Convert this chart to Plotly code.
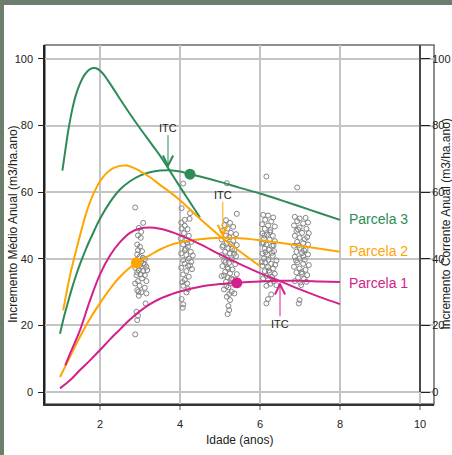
import plotly.graph_objects as go

# ---------------- data ----------------
# Parcela 3 (green)
p3_ica_age = [1.06, 1.12, 1.2, 1.3, 1.4, 1.5, 1.6, 1.7, 1.8, 1.9, 2.0, 2.1, 2.2, 2.35, 2.5, 2.75, 3.0, 3.25, 3.5, 3.7, 4.0, 4.25, 4.5]
p3_ica_val = [66.5, 71.5, 78.0, 84.5, 89.3, 92.6, 95.0, 96.5, 97.2, 97.2, 96.5, 95.2, 93.5, 90.8, 88.0, 83.5, 79.2, 75.1, 71.0, 67.3, 61.6, 57.0, 52.4]
p3_ima_age = [1.0, 1.1, 1.2, 1.3, 1.4, 1.5, 1.65, 1.8, 2.0, 2.25, 2.5, 2.75, 3.0, 3.25, 3.5, 3.75, 4.0, 4.25, 4.5, 5.0, 5.5, 6.0, 6.5, 7.0, 7.5, 8.0]
p3_ima_val = [17.5, 22.6, 27.0, 31.2, 35.0, 38.4, 43.0, 47.0, 52.0, 57.0, 60.8, 63.3, 65.0, 66.0, 66.5, 66.6, 66.2, 65.4, 64.7, 63.1, 61.3, 59.6, 57.7, 55.7, 53.7, 51.7]

# Parcela 2 (orange)
p2_ica_age = [1.08, 1.15, 1.25, 1.35, 1.5, 1.65, 1.8, 2.0, 2.17, 2.33, 2.5, 2.67, 2.83, 3.0, 3.25, 3.5, 3.75, 4.0, 4.5, 5.0, 5.5, 6.0]
p2_ica_val = [24.5, 29.0, 35.0, 40.0, 47.0, 53.5, 58.5, 63.3, 65.8, 67.2, 67.9, 68.0, 67.4, 66.3, 64.5, 62.2, 60.0, 57.6, 52.0, 46.8, 42.2, 37.8]
p2_ima_age = [1.0, 1.17, 1.33, 1.5, 1.75, 2.0, 2.25, 2.5, 2.75, 3.0, 3.25, 3.5, 3.75, 4.0, 4.5, 5.0, 5.5, 6.0, 6.5, 7.0, 7.5, 8.0]
p2_ima_val = [4.5, 8.6, 12.5, 16.6, 22.0, 26.7, 31.0, 34.6, 37.4, 39.4, 41.1, 42.8, 44.1, 45.0, 45.9, 46.3, 46.2, 45.6, 44.8, 43.9, 43.0, 42.1]

# Parcela 1 (magenta)
p1_ica_age = [1.13, 1.25, 1.5, 1.75, 2.0, 2.25, 2.5, 2.75, 3.0, 3.25, 3.5, 3.75, 4.0, 4.5, 5.0, 5.5, 6.0, 6.5, 7.0, 7.5, 8.0]
p1_ica_val = [8.0, 11.5, 18.6, 27.5, 35.3, 41.0, 45.0, 47.8, 49.1, 49.4, 49.0, 48.2, 47.1, 44.4, 41.3, 38.4, 35.7, 33.3, 30.8, 28.5, 26.4]
p1_ima_age = [1.0, 1.25, 1.5, 1.75, 2.0, 2.25, 2.5, 2.75, 3.0, 3.25, 3.5, 3.75, 4.0, 4.5, 5.0, 5.42, 6.0, 6.5, 7.0, 7.5, 8.0]
p1_ima_val = [1.1, 3.5, 6.6, 9.5, 12.6, 15.8, 18.8, 21.8, 24.3, 26.4, 28.0, 29.2, 30.2, 31.6, 32.4, 32.8, 33.2, 33.4, 33.4, 33.2, 33.0]

# observed points (IMA of measured plots)
obs_age_c1 = [2.88, 3.08, 2.97, 3.03, 2.95, 3.02, 2.93, 3.00, 2.95, 3.05, 2.93, 2.99, 3.12, 3.03, 3.16, 2.88, 2.97, 3.08,
              3.02, 2.91, 3.12, 2.95, 3.16, 2.88, 2.99, 3.12, 2.93, 3.03, 3.16, 2.97, 3.14, 2.91, 2.95, 2.93, 2.88,
              2.91, 3.08, 2.99, 3.18, 2.93, 3.05, 2.96, 3.07, 3.12, 3.02]
obs_val_c1 = [55.4, 50.8, 49.3, 48.1, 47.0, 46.3, 44.3, 43.6, 42.6, 42.3, 41.3, 40.6, 39.9, 39.1, 37.6, 37.3, 36.6, 36.3,
              35.3, 35.1, 35.1, 33.3, 33.3, 32.6, 31.9, 31.3, 30.6, 29.9, 29.6, 28.9, 26.6, 24.1, 22.9, 21.6, 17.3,
              39.6, 38.6, 38.1, 36.6, 35.9, 34.1, 30.1, 40.3, 38.3, 37.6]
obs_age_c2 = [4.08, 4.04, 4.25, 4.12, 4.24, 4.03, 4.12, 4.04, 4.19, 4.10, 4.22, 4.02, 4.16, 4.28, 4.08, 4.20, 4.12, 4.27,
              4.03, 4.16, 4.32, 4.22, 4.08, 4.28, 4.12, 4.20, 4.03, 4.30, 4.16, 4.08, 4.22, 4.12, 4.18, 4.08, 4.20,
              4.16, 4.04, 4.08, 4.07, 4.14, 4.25, 4.06, 4.18]
obs_val_c2 = [62.6, 55.2, 53.7, 51.7, 52.0, 50.9, 49.9, 49.1, 48.9, 47.7, 46.9, 46.1, 45.6, 45.1, 44.3, 43.6, 42.6, 42.1,
              41.6, 41.1, 41.0, 40.1, 39.6, 39.1, 38.6, 37.9, 37.3, 36.9, 36.3, 35.3, 34.6, 33.6, 32.6, 31.9, 30.9,
              29.9, 27.9, 26.3, 25.3, 43.0, 38.0, 33.0, 44.8]
obs_age_c3 = [5.17, 5.42, 5.15, 5.25, 5.11, 5.33, 5.19, 5.06, 5.27, 5.40, 5.15, 5.23, 5.04, 5.33, 5.17, 5.27, 5.42, 5.06,
              5.21, 5.36, 5.13, 5.25, 5.04, 5.40, 5.17, 5.29, 5.10, 5.23, 5.38, 5.06, 5.19, 5.31, 5.13, 5.25, 5.42,
              5.04, 5.19, 5.33, 5.15, 5.27, 5.40, 5.21, 5.10, 5.29, 5.23, 5.36, 5.17, 5.25, 5.21, 5.23, 5.19,
              5.08, 5.30, 5.14, 5.35, 5.20, 5.10, 5.28, 5.16]
obs_val_c3 = [62.7, 53.5, 51.6, 50.8, 50.1, 49.6, 49.1, 48.4, 47.8, 47.4, 47.0, 46.5, 45.8, 45.4, 44.8, 44.4, 44.1, 43.6,
              43.1, 42.6, 42.1, 41.6, 41.1, 40.8, 40.4, 39.8, 39.4, 38.8, 38.4, 37.8, 37.4, 36.8, 36.1, 35.6, 35.4,
              34.8, 34.4, 33.8, 33.1, 32.6, 32.1, 31.4, 30.8, 30.1, 29.4, 29.6, 28.6, 27.6, 25.8, 24.6, 23.4,
              44.0, 43.0, 39.0, 41.5, 37.0, 35.0, 34.0, 31.8]
obs_age_c4 = [6.16, 6.08, 6.20, 6.33, 6.13, 6.28, 6.05, 6.20, 6.37, 6.12, 6.26, 6.06, 6.18, 6.32, 6.10, 6.24, 6.37, 6.05,
              6.16, 6.30, 6.12, 6.22, 6.35, 6.06, 6.18, 6.32, 6.10, 6.21, 6.41, 6.13, 6.28, 6.06, 6.20, 6.33, 6.12,
              6.24, 6.37, 6.16, 6.30, 6.08, 6.20, 6.33, 6.26, 6.41, 6.16, 6.28, 6.20, 6.16,
              6.09, 6.25, 6.14, 6.34, 6.04, 6.22, 6.30, 6.11, 6.38]
obs_val_c4 = [64.7, 53.2, 53.0, 52.4, 51.7, 51.2, 50.4, 50.0, 49.7, 49.0, 48.6, 47.6, 47.3, 46.9, 46.1, 45.7, 45.3, 44.6,
              44.3, 43.9, 43.1, 42.7, 42.3, 41.6, 41.3, 40.9, 40.1, 39.7, 39.5, 38.9, 38.5, 37.9, 37.5, 37.1, 36.3,
              35.9, 35.5, 34.9, 34.5, 34.1, 33.6, 33.3, 32.5, 32.1, 31.9, 29.3, 27.9, 26.6,
              44.8, 48.0, 42.0, 44.0, 39.0, 36.5, 41.8, 47.0, 38.2]
obs_age_c5 = [6.93, 6.87, 6.99, 7.14, 6.93, 7.08, 7.20, 6.85, 6.99, 7.16, 6.91, 7.05, 7.22, 6.87, 6.99, 7.12, 6.93, 7.08,
              7.20, 6.85, 6.99, 7.14, 6.91, 7.05, 7.20, 6.87, 6.99, 7.12, 6.93, 7.08, 7.22, 6.85, 6.99, 7.14, 6.91,
              7.05, 7.18, 6.95, 7.10, 6.87, 7.01, 7.16, 7.03, 6.99, 6.97,
              6.96, 7.10, 6.90, 7.04, 7.18, 6.95, 7.08]
obs_val_c5 = [61.4, 52.6, 52.1, 52.3, 51.3, 50.6, 50.9, 50.0, 49.4, 49.0, 48.4, 47.8, 47.7, 46.9, 46.3, 45.9, 45.1, 44.7,
              44.3, 43.9, 43.3, 42.9, 42.1, 41.7, 41.3, 40.6, 40.1, 39.7, 38.9, 38.5, 38.1, 37.6, 37.1, 36.7, 35.9,
              35.5, 35.1, 34.3, 33.9, 33.3, 32.9, 33.1, 32.1, 27.6, 26.6,
              44.0, 42.5, 39.5, 36.0, 46.5, 48.8, 40.8]

# points marked on the IMA curves
dot_age = [4.25, 2.91, 5.42]
dot_val = [65.4, 38.8, 32.8]

# ITC arrows: (x head, y head, y tail, y text)
itc_x = [3.70, 5.07, 6.50]
itc_head = [67.3, 46.5, 33.0]
itc_tail = [77.6, 57.6, 22.3]
itc_text_y = [79.2, 59.1, 20.5]

tick_x = [2, 4, 6, 8, 10]
tick_y = [0, 20, 40, 60, 80, 100]

labels = ["Parcela 3", "Parcela 2", "Parcela 1"]
label_y = [52.0, 42.3, 32.6]

GREEN = "#2E8B57"
ORANGE = "#FFA500"
MAGENTA = "#D4208C"
colors = [GREEN, ORANGE, MAGENTA]
FONT = "Liberation Sans, Arial, Helvetica, sans-serif"

XR = [0.625, 10.35]
YR = [-3.6, 104.2]

fig = go.Figure()

obs_x = obs_age_c1 + obs_age_c2 + obs_age_c3 + obs_age_c4 + obs_age_c5
obs_y = obs_val_c1 + obs_val_c2 + obs_val_c3 + obs_val_c4 + obs_val_c5
fig.add_trace(go.Scatter(x=obs_x, y=obs_y, mode="markers",
                         marker=dict(symbol="circle-open", size=5, color="#858585", line=dict(width=1))))

curves = [
    (p3_ica_age, p3_ica_val, GREEN, "y2"), (p3_ima_age, p3_ima_val, GREEN, "y"),
    (p2_ica_age, p2_ica_val, ORANGE, "y2"), (p2_ima_age, p2_ima_val, ORANGE, "y"),
    (p1_ica_age, p1_ica_val, MAGENTA, "y2"), (p1_ima_age, p1_ima_val, MAGENTA, "y"),
]
for xs, ys, c, ya in curves:
    fig.add_trace(go.Scatter(x=xs, y=ys, mode="lines", yaxis=ya,
                             line=dict(color=c, width=2, shape="spline", smoothing=1.0)))

fig.add_trace(go.Scatter(x=dot_age, y=dot_val, mode="markers",
                         marker=dict(size=11, color=colors, line=dict(width=0))))

ann = []
for i in range(3):
    ann.append(dict(x=itc_x[i], y=itc_head[i], ax=itc_x[i], ay=itc_tail[i], axref="x", ayref="y",
                    xref="x", yref="y", text="", showarrow=True, arrowhead=5, arrowsize=2,
                    arrowwidth=1, arrowcolor=colors[i], standoff=0, startstandoff=0))
    ann.append(dict(x=itc_x[i], y=itc_text_y[i], xref="x", yref="y", text="ITC", showarrow=False,
                    font=dict(size=11, color="#222"), xanchor="center", yanchor="middle"))
    ann.append(dict(x=8.17, y=label_y[i], xref="x", yref="y", text=labels[i], showarrow=False,
                    font=dict(size=14, color=colors[i]), xanchor="left", yanchor="middle"))

ann.append(dict(x=-0.084, y=0.5, xref="paper", yref="paper", text="Incremento Médio Anual (m3/ha.ano)",
                textangle=-90, showarrow=False, font=dict(size=12, color="#222"),
                xanchor="center", yanchor="middle"))
ann.append(dict(x=1.0285, y=0.5, xref="paper", yref="paper", text="Incremento Corrente Anual (m3/ha.ano)",
                textangle=-90, showarrow=False, font=dict(size=12, color="#222"),
                xanchor="center", yanchor="middle"))
ann.append(dict(x=0.5, y=-0.100, xref="paper", yref="paper", text="Idade (anos)",
                showarrow=False, font=dict(size=12, color="#222"), xanchor="center", yanchor="middle"))

shapes = [
    dict(type="rect", xref="paper", yref="paper", x0=0, x1=1, y0=0, y1=1,
         line=dict(color="#6a6a6a", width=1.5), layer="below"),
    dict(type="line", xref="x", yref="y", x0=10, x1=10, y0=0, y1=YR[1],
         line=dict(color="#222", width=1.5), layer="above"),
    dict(type="rect", xref="paper", yref="paper", x0=-0.14, x1=1.2, y0=1.1114, y1=1.15,
         fillcolor="#6d7e6c", line=dict(width=0), layer="below"),
    dict(type="rect", xref="paper", yref="paper", x0=-0.14, x1=-0.1054, y0=-0.2, y1=1.15,
         fillcolor="#6d7e6c", line=dict(width=0), layer="below"),
]

fig.update_layout(
    width=452, height=455,
    margin=dict(l=45, r=18, t=45, b=51, autoexpand=False),
    paper_bgcolor="white", plot_bgcolor="white",
    showlegend=False,
    font=dict(family=FONT, size=11, color="#222"),
    xaxis=dict(range=XR, tickvals=tick_x, showgrid=True, gridcolor="#c4c4c4", gridwidth=1.5,
               zeroline=False, showline=True, linecolor="#333", linewidth=2, automargin=False,
               ticks="outside", ticklen=4, tickcolor="#aaa", tickwidth=1.5, ticklabelstandoff=5),
    yaxis=dict(range=YR, tickvals=tick_y, showgrid=True, gridcolor="#c4c4c4", gridwidth=1.5,
               zeroline=False, showline=True, linecolor="#222", linewidth=1.5, automargin=False,
               ticks="outside", ticklen=5, tickcolor="#222", ticklabelstandoff=3),
    yaxis2=dict(range=YR, tickvals=tick_y, overlaying="y", anchor="free", position=0.964, side="right",
                showgrid=False, zeroline=False, showline=False, automargin=False, autoshift=False,
                ticks="outside", ticklen=9, tickcolor="#222", ticklabelstandoff=0),
    shapes=shapes,
    annotations=ann,
)

fig.write_html("out.html")
